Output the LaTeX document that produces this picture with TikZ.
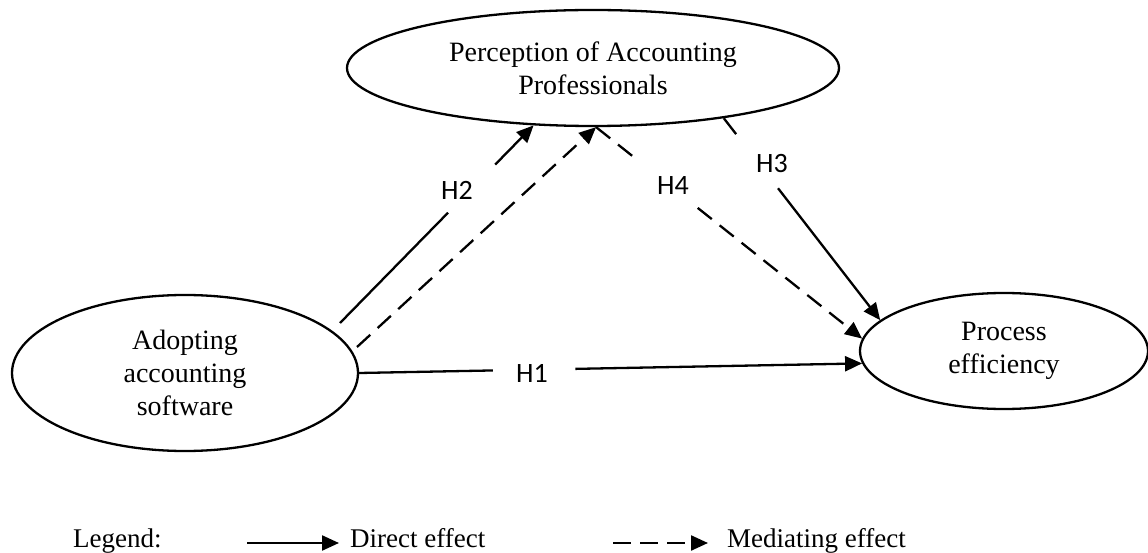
\documentclass[tikz,border=0pt]{standalone}
\usepackage{fontspec}
\setmainfont{Liberation Serif}
\newfontfamily\hfont{Carlito}
\usetikzlibrary{shapes.geometric,arrows.meta,calc}
\begin{document}
\begin{tikzpicture}[x=1pt,y=-1pt,
  construct/.style={ellipse,draw,line width=2.3pt,inner sep=0pt,align=center,
    font=\fontsize{28}{33}\selectfont},
  plainline/.style={line width=2.3pt},
  conn/.style={line width=2.3pt,-{Triangle[length=17pt,width=15pt]}},
  medline/.style={line width=2.3pt,dash pattern=on 18pt off 10pt},
  medconn/.style={conn,dash pattern=on 18pt off 10pt},
  hlabel/.style={font=\hfont\fontsize{28}{32}\selectfont,inner sep=0pt},
  legtext/.style={font=\fontsize{27}{32}\selectfont,anchor=base west,inner sep=0pt}
]
\useasboundingbox (0,0) rectangle (1148,553);

% constructs
\node[construct,minimum width=492pt,minimum height=116pt] (perc) at (593,68)
  {Perception of Accounting\\Professionals};
\node[construct,minimum width=346pt,minimum height=156pt] (adopt) at (185,373)
  {Adopting\\accounting\\software};
\node[construct,minimum width=288pt,minimum height=116pt] (eff) at (1004,351)
  {Process\\efficiency};

% free start points
\coordinate (h2s) at (340,323);
\coordinate (ms) at (357,347);

% H2 (direct)
\draw[plainline] (h2s) -- ($(h2s)!0.558!(perc.224)$);
\draw[conn] ($(h2s)!0.802!(perc.224)$) -- (perc.224);
\node[hlabel] (lh2) at (457,190) {H2};

% mediating path
\draw[medconn] (ms) -- (perc.273);
\draw[medline] (perc.273) -- ($(perc.273)!0.139!(eff.175)$);
\draw[medconn] ($(perc.273)!0.382!(eff.175)$) -- (eff.175);
\node[hlabel] (lh4) at (673,186) {H4};

% H3
\draw[plainline] (perc.339) -- ($(perc.339)!0.079!(eff.166)$);
\draw[conn] ($(perc.339)!0.347!(eff.166)$) -- (eff.166);
\node[hlabel] (lh3) at (772,164) {H3};

% H1
\draw[plainline] (adopt.east) -- ($(adopt.east)!0.266!(eff.185)$);
\draw[conn] ($(adopt.east)!0.43!(eff.185)$) -- (eff.185);
\node[hlabel] (lh1) at (532,373) {H1};

% legend
\node[legtext] (leg) at (73,547) {Legend:};
\coordinate (ls1) at (247,543);
\coordinate (le1) at (339,543);
\draw[conn] (ls1) -- (le1);
\node[legtext] (ldir) at (350,547) {Direct effect};
\coordinate (ls2) at (613,543);
\coordinate (le2) at (708,543);
\draw[conn,dash pattern=on 18pt off 9pt] (ls2) -- (le2);
\node[legtext] (lmed) at (727,547) {Mediating effect};
\end{tikzpicture}
\end{document}
